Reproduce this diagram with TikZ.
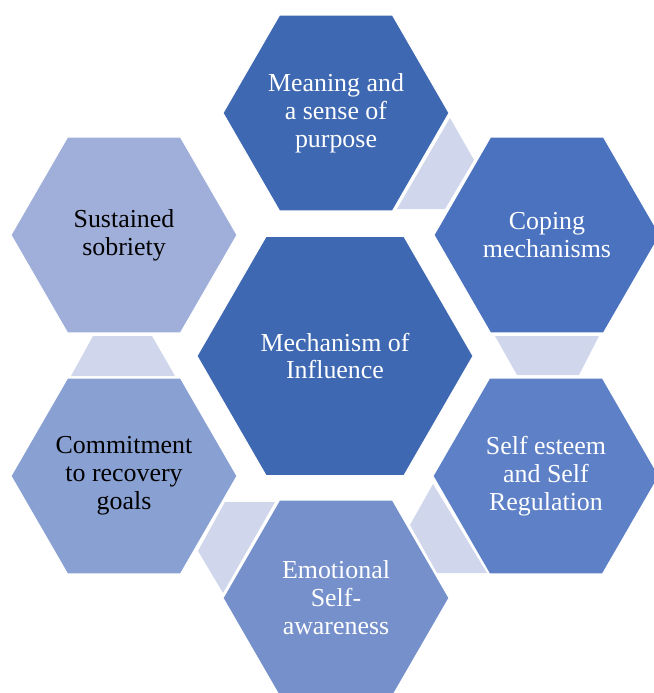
\documentclass[tikz,border=0pt]{standalone}
\usepackage{fontspec}
\setmainfont{Liberation Serif}
\usepackage{tikz}
\usetikzlibrary{shapes.geometric}
\definecolor{hexcore}{HTML}{3E68B1}
\definecolor{hexcope}{HTML}{4A72BF}
\definecolor{hexself}{HTML}{5E80C6}
\definecolor{hexemo}{HTML}{7590CB}
\definecolor{hexgoal}{HTML}{89A0D2}
\definecolor{hexsober}{HTML}{A0AFD9}
\definecolor{linkfill}{HTML}{D0D6EB}

\begin{document}
\begin{tikzpicture}[x=1bp,y=-1bp,
		hexcell/.style={regular polygon,regular polygon sides=6,minimum size=226bp,inner sep=0pt,draw=white,line width=1bp,align=center,text=white,font=\fontsize{26}{28}\selectfont},
		link/.style={fill=linkfill}]
		\useasboundingbox (0,0) rectangle (654,693);
		\clip (0,0) rectangle (654,693);

		% links between the outer cells
		\fill[link] (450,118) -- (474,160) -- (445,209) -- (397,209) -- cycle;
		\fill[link] (495,336) -- (599,336) -- (579,375) -- (517,375) -- cycle;
		\fill[link] (433,484) -- (410,525) -- (437,573) -- (487,573) -- cycle;
		\fill[link] (225,502) -- (275,502) -- (223,593) -- (198,551) -- cycle;
		\fill[link] (71,376) -- (175,376) -- (152,336) -- (93,336) -- cycle;

		\node[hexcell,fill=hexcore,minimum size=276bp] (core) at (335,356) {Mechanism of\\Influence};

		\node[hexcell,fill=hexcore] (meaning) at (336,113) {Meaning and\\a sense of\\purpose};
		\node[hexcell,fill=hexcope] (coping) at (547,235) {Coping\\mechanisms};
		\node[hexcell,fill=hexself] (selfreg) at (546,476) {Self esteem\\and Self\\Regulation};
		\node[hexcell,fill=hexemo] (emotion) at (336,598) {Emotional\\Self-\\awareness};
		\node[hexcell,fill=hexgoal,text=black] (commit) at (124,476) {Commitment\\to recovery\\goals};
		\node[hexcell,fill=hexsober,text=black] (sober) at (124,235) {Sustained\\sobriety};
	\end{tikzpicture}
\end{document}
